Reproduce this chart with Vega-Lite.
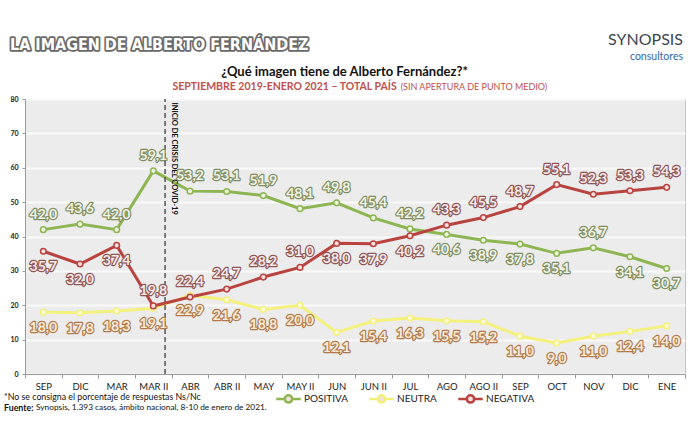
{
  "$schema": "https://vega.github.io/schema/vega-lite/v6.json",
  "width": 660,
  "height": 275,
  "autosize": {"type": "none"},
  "padding": {"top": 99, "left": 25, "right": 5, "bottom": 71},
  "background": "#ffffff",
  "config": {
    "locale": {"number": {"decimal": ",", "thousands": ".", "grouping": [3], "currency": ["$", ""]}},
    "view": {"fill": "#ececec", "stroke": "#c4c4c4", "strokeWidth": 1},
    "font": "Lato"
  },
  "resolve": {"axis": {"y": "independent"}},
  "datasets": {
    "serie": [
      {"periodo": "SEP", "serie": "POSITIVA", "valor": 42.0},
      {"periodo": "DIC", "serie": "POSITIVA", "valor": 43.6},
      {"periodo": "MAR", "serie": "POSITIVA", "valor": 42.0},
      {"periodo": "MAR II", "serie": "POSITIVA", "valor": 59.1},
      {"periodo": "ABR", "serie": "POSITIVA", "valor": 53.2},
      {"periodo": "ABR II", "serie": "POSITIVA", "valor": 53.1},
      {"periodo": "MAY", "serie": "POSITIVA", "valor": 51.9},
      {"periodo": "MAY II", "serie": "POSITIVA", "valor": 48.1},
      {"periodo": "JUN", "serie": "POSITIVA", "valor": 49.8},
      {"periodo": "JUN II", "serie": "POSITIVA", "valor": 45.4},
      {"periodo": "JUL", "serie": "POSITIVA", "valor": 42.2},
      {"periodo": "AGO", "serie": "POSITIVA", "valor": 40.6},
      {"periodo": "AGO II", "serie": "POSITIVA", "valor": 38.9},
      {"periodo": "SEP ", "serie": "POSITIVA", "valor": 37.8},
      {"periodo": "OCT", "serie": "POSITIVA", "valor": 35.1},
      {"periodo": "NOV", "serie": "POSITIVA", "valor": 36.7},
      {"periodo": "DIC ", "serie": "POSITIVA", "valor": 34.1},
      {"periodo": "ENE", "serie": "POSITIVA", "valor": 30.7},
      {"periodo": "SEP", "serie": "NEUTRA", "valor": 18.0},
      {"periodo": "DIC", "serie": "NEUTRA", "valor": 17.8},
      {"periodo": "MAR", "serie": "NEUTRA", "valor": 18.3},
      {"periodo": "MAR II", "serie": "NEUTRA", "valor": 19.1},
      {"periodo": "ABR", "serie": "NEUTRA", "valor": 22.9},
      {"periodo": "ABR II", "serie": "NEUTRA", "valor": 21.6},
      {"periodo": "MAY", "serie": "NEUTRA", "valor": 18.8},
      {"periodo": "MAY II", "serie": "NEUTRA", "valor": 20.0},
      {"periodo": "JUN", "serie": "NEUTRA", "valor": 12.1},
      {"periodo": "JUN II", "serie": "NEUTRA", "valor": 15.4},
      {"periodo": "JUL", "serie": "NEUTRA", "valor": 16.3},
      {"periodo": "AGO", "serie": "NEUTRA", "valor": 15.5},
      {"periodo": "AGO II", "serie": "NEUTRA", "valor": 15.2},
      {"periodo": "SEP ", "serie": "NEUTRA", "valor": 11.0},
      {"periodo": "OCT", "serie": "NEUTRA", "valor": 9.0},
      {"periodo": "NOV", "serie": "NEUTRA", "valor": 11.0},
      {"periodo": "DIC ", "serie": "NEUTRA", "valor": 12.4},
      {"periodo": "ENE", "serie": "NEUTRA", "valor": 14.0},
      {"periodo": "SEP", "serie": "NEGATIVA", "valor": 35.7},
      {"periodo": "DIC", "serie": "NEGATIVA", "valor": 32.0},
      {"periodo": "MAR", "serie": "NEGATIVA", "valor": 37.4},
      {"periodo": "MAR II", "serie": "NEGATIVA", "valor": 19.8},
      {"periodo": "ABR", "serie": "NEGATIVA", "valor": 22.4},
      {"periodo": "ABR II", "serie": "NEGATIVA", "valor": 24.7},
      {"periodo": "MAY", "serie": "NEGATIVA", "valor": 28.2},
      {"periodo": "MAY II", "serie": "NEGATIVA", "valor": 31.0},
      {"periodo": "JUN", "serie": "NEGATIVA", "valor": 38.0},
      {"periodo": "JUN II", "serie": "NEGATIVA", "valor": 37.9},
      {"periodo": "JUL", "serie": "NEGATIVA", "valor": 40.2},
      {"periodo": "AGO", "serie": "NEGATIVA", "valor": 43.3},
      {"periodo": "AGO II", "serie": "NEGATIVA", "valor": 45.5},
      {"periodo": "SEP ", "serie": "NEGATIVA", "valor": 48.7},
      {"periodo": "OCT", "serie": "NEGATIVA", "valor": 55.1},
      {"periodo": "NOV", "serie": "NEGATIVA", "valor": 52.3},
      {"periodo": "DIC ", "serie": "NEGATIVA", "valor": 53.3},
      {"periodo": "ENE", "serie": "NEGATIVA", "valor": 54.3}
    ],
    "hito": [{"periodo": "MAR II", "evento": "INICIO DE CRISIS DEL COVID-19"}],
    "cabecera": [{"texto": "LA IMAGEN DE ALBERTO FERNÁNDEZ"}],
    "pregunta": [{"texto": "¿Qué imagen tiene de Alberto Fernández?*"}],
    "periodo": [{"texto": "SEPTIEMBRE 2019-ENERO 2021 – TOTAL PAÍS"}],
    "periodo2": [{"texto": "(SIN APERTURA DE PUNTO MEDIO)"}],
    "marca": [{"texto": "SYNOPSIS"}],
    "marca2": [{"texto": "consultores"}],
    "nota": [{"texto": "*No se consigna el porcentaje de respuestas Ns/Nc"}],
    "fuente": [{"texto": "Fuente:"}],
    "fuente2": [{"texto": "Synopsis, 1.393 casos, ámbito nacional, 8-10 de enero de 2021."}]
  },
  "layer": [
    {
      "data": {"name": "serie"},
      "mark": {"type": "line", "strokeWidth": 3},
      "encoding": {
        "x": {
          "field": "periodo",
          "type": "ordinal",
          "scale": {
            "type": "band",
            "paddingInner": 0,
            "paddingOuter": 0,
            "domain": ["SEP", "DIC", "MAR", "MAR II", "ABR", "ABR II", "MAY", "MAY II", "JUN", "JUN II", "JUL", "AGO", "AGO II", "SEP ", "OCT", "NOV", "DIC ", "ENE"]
          },
          "axis": {
            "title": null,
            "labelAngle": 0,
            "labelExpr": "trim(datum.label)",
            "labelFont": "Lato",
            "labelFontSize": 9.5,
            "labelColor": "#222222",
            "labelPadding": 3,
            "tickBand": "extent",
            "tickSize": 4,
            "tickColor": "#9a9a9a",
            "domainColor": "#9a9a9a",
            "grid": false
          }
        },
        "y": {
          "field": "valor",
          "type": "quantitative",
          "scale": {"domain": [0, 80], "nice": false},
          "axis": {
            "title": null,
            "values": [0, 10, 20, 30, 40, 50, 60, 70, 80],
            "labelOverlap": false,
            "labelFont": "Lato",
            "labelFontSize": 7,
            "labelFontWeight": "bold",
            "labelColor": "#222222",
            "labelPadding": 4,
            "tickSize": 3,
            "tickColor": "#9a9a9a",
            "domainColor": "#9a9a9a",
            "gridColor": "#fafafa",
            "gridWidth": 2
          }
        },
        "stroke": {
          "field": "serie",
          "type": "nominal",
          "scale": {"domain": ["POSITIVA", "NEUTRA", "NEGATIVA"], "range": ["#8db653", "#f4f07c", "#b8433f"]},
          "legend": {
            "title": null,
            "orient": "none",
            "legendX": 250,
            "legendY": 286,
            "direction": "horizontal",
            "symbolType": "M-1,0H-0.3M0.3,0H1M-0.3,0A0.3,0.3,0,1,1,0.3,0A0.3,0.3,0,1,1,-0.3,0Z",
            "symbolSize": 600,
            "symbolStrokeWidth": 2.5,
            "symbolFillColor": "#f6f6ee",
            "labelFont": "Lato",
            "labelFontSize": 10,
            "labelColor": "#222222",
            "labelOffset": 2,
            "columnPadding": 16
          }
        }
      }
    },
    {
      "data": {"name": "hito"},
      "mark": {"type": "rule", "color": "#555555", "strokeWidth": 1.5, "strokeDash": [5, 3]},
      "encoding": {
        "x": {"field": "periodo", "type": "ordinal", "bandPosition": 0.82},
        "y": {"datum": 0, "type": "quantitative", "axis": null},
        "y2": {"datum": 80}
      }
    },
    {
      "data": {"name": "hito"},
      "mark": {"type": "text", "angle": 90, "align": "left", "baseline": "alphabetic", "font": "Lato", "fontWeight": "bold", "fontSize": 7.5, "color": "#111111"},
      "encoding": {
        "x": {"field": "periodo", "type": "ordinal", "bandPosition": 1},
        "y": {"datum": 79, "type": "quantitative", "axis": null},
        "text": {"field": "evento"}
      }
    },
    {
      "data": {"name": "serie"},
      "mark": {"type": "point", "shape": "circle", "filled": true, "size": 32, "strokeWidth": 1.5, "opacity": 1},
      "encoding": {
        "x": {"field": "periodo", "type": "ordinal"},
        "y": {"field": "valor", "type": "quantitative", "axis": null},
        "stroke": {"field": "serie", "type": "nominal"},
        "fill": {
          "condition": [
            {"test": "datum.serie == 'POSITIVA'", "value": "#eef4e0"},
            {"test": "datum.serie == 'NEUTRA'", "value": "#fffbdc"}
          ],
          "value": "#f6dede"
        }
      }
    },
    {
      "data": {"name": "serie"},
      "transform": [{"filter": "(datum.serie == 'POSITIVA' && indexof(['AGO','AGO II','SEP ','OCT','DIC ','ENE'], datum.periodo) < 0) || (datum.serie == 'NEGATIVA' && indexof(['MAR II','ABR','ABR II','MAY','MAY II','AGO','AGO II','SEP ','OCT','NOV','DIC ','ENE'], datum.periodo) >= 0)"}],
      "mark": {"type": "text", "font": "Lato", "fontWeight": "bold", "fontSize": 14, "dy": -15, "strokeWidth": 2.4, "strokeJoin": "round"},
      "encoding": {
        "x": {"field": "periodo", "type": "ordinal"},
        "y": {"field": "valor", "type": "quantitative", "axis": null},
        "text": {"field": "valor", "type": "quantitative", "format": ".1f"},
        "stroke": {"value": "#888888", "condition": [{"test": "datum.serie == 'POSITIVA'", "value": "#7f8d60"}, {"test": "datum.serie == 'NEGATIVA'", "value": "#8e5555"}]},
        "fill": {"value": "#888888", "condition": [{"test": "datum.serie == 'POSITIVA'", "value": "#7f8d60"}, {"test": "datum.serie == 'NEGATIVA'", "value": "#8e5555"}]}
      }
    },
    {
      "data": {"name": "serie"},
      "transform": [{"filter": "(datum.serie == 'POSITIVA' && indexof(['AGO','AGO II','SEP ','OCT','DIC ','ENE'], datum.periodo) < 0) || (datum.serie == 'NEGATIVA' && indexof(['MAR II','ABR','ABR II','MAY','MAY II','AGO','AGO II','SEP ','OCT','NOV','DIC ','ENE'], datum.periodo) >= 0)"}],
      "mark": {"type": "text", "font": "Lato", "fontWeight": "bold", "fontSize": 14, "dy": -15},
      "encoding": {
        "x": {"field": "periodo", "type": "ordinal"},
        "y": {"field": "valor", "type": "quantitative", "axis": null},
        "text": {"field": "valor", "type": "quantitative", "format": ".1f"},
        "fill": {"value": "#f2f2f2", "condition": [{"test": "datum.serie == 'POSITIVA'", "value": "#f1f4e6"}, {"test": "datum.serie == 'NEGATIVA'", "value": "#f8ecec"}]}
      }
    },
    {
      "data": {"name": "serie"},
      "transform": [{"filter": "!((datum.serie == 'POSITIVA' && indexof(['AGO','AGO II','SEP ','OCT','DIC ','ENE'], datum.periodo) < 0) || (datum.serie == 'NEGATIVA' && indexof(['MAR II','ABR','ABR II','MAY','MAY II','AGO','AGO II','SEP ','OCT','NOV','DIC ','ENE'], datum.periodo) >= 0))"}],
      "mark": {"type": "text", "font": "Lato", "fontWeight": "bold", "fontSize": 14, "dy": 16, "strokeWidth": 2.4, "strokeJoin": "round"},
      "encoding": {
        "x": {"field": "periodo", "type": "ordinal"},
        "y": {"field": "valor", "type": "quantitative", "axis": null},
        "text": {"field": "valor", "type": "quantitative", "format": ".1f"},
        "stroke": {"value": "#b07a4e", "condition": [{"test": "datum.serie == 'POSITIVA'", "value": "#7f8d60"}, {"test": "datum.serie == 'NEGATIVA'", "value": "#8e5555"}]},
        "fill": {"value": "#b07a4e", "condition": [{"test": "datum.serie == 'POSITIVA'", "value": "#7f8d60"}, {"test": "datum.serie == 'NEGATIVA'", "value": "#8e5555"}]}
      }
    },
    {
      "data": {"name": "serie"},
      "transform": [{"filter": "!((datum.serie == 'POSITIVA' && indexof(['AGO','AGO II','SEP ','OCT','DIC ','ENE'], datum.periodo) < 0) || (datum.serie == 'NEGATIVA' && indexof(['MAR II','ABR','ABR II','MAY','MAY II','AGO','AGO II','SEP ','OCT','NOV','DIC ','ENE'], datum.periodo) >= 0))"}],
      "mark": {"type": "text", "font": "Lato", "fontWeight": "bold", "fontSize": 14, "dy": 16},
      "encoding": {
        "x": {"field": "periodo", "type": "ordinal"},
        "y": {"field": "valor", "type": "quantitative", "axis": null},
        "text": {"field": "valor", "type": "quantitative", "format": ".1f"},
        "fill": {"value": "#fcecd6", "condition": [{"test": "datum.serie == 'POSITIVA'", "value": "#f1f4e6"}, {"test": "datum.serie == 'NEGATIVA'", "value": "#f8ecec"}]}
      }
    },
    {
      "data": {"name": "cabecera"},
      "mark": {"type": "text", "clip": false, "align": "left", "baseline": "middle", "font": "DejaVu Sans Condensed", "fontWeight": "bold", "fontSize": 16, "stroke": "#6a6a6a", "strokeWidth": 3.5, "strokeJoin": "round", "fill": "#6a6a6a", "dx": -15},
      "encoding": {"x": {"datum": "SEP", "bandPosition": 0, "type": "ordinal"}, "y": {"datum": 95.8, "type": "quantitative", "axis": null}, "text": {"field": "texto"}}
    },
    {
      "data": {"name": "cabecera"},
      "mark": {"type": "text", "clip": false, "align": "left", "baseline": "middle", "font": "DejaVu Sans Condensed", "fontWeight": "bold", "fontSize": 16, "fill": "#ffffff", "dx": -15},
      "encoding": {"x": {"datum": "SEP", "bandPosition": 0, "type": "ordinal"}, "y": {"datum": 95.8, "type": "quantitative", "axis": null}, "text": {"field": "texto"}}
    },
    {
      "data": {"name": "pregunta"},
      "mark": {"type": "text", "clip": false, "align": "center", "baseline": "middle", "font": "Lato", "fontWeight": "bold", "fontSize": 13, "fill": "#111111", "dx": 8},
      "encoding": {"x": {"datum": "JUN", "bandPosition": 0.5, "type": "ordinal"}, "y": {"datum": 87.85, "type": "quantitative", "axis": null}, "text": {"field": "texto"}}
    },
    {
      "data": {"name": "periodo"},
      "mark": {"type": "text", "clip": false, "align": "right", "baseline": "middle", "font": "Lato", "fontWeight": "bold", "fontSize": 10.5, "fill": "#c0504d", "dx": 5},
      "encoding": {"x": {"datum": "JUL", "bandPosition": 0, "type": "ordinal"}, "y": {"datum": 83.5, "type": "quantitative", "axis": null}, "text": {"field": "texto"}}
    },
    {
      "data": {"name": "periodo2"},
      "mark": {"type": "text", "clip": false, "align": "left", "baseline": "middle", "font": "Lato", "fontSize": 9, "fill": "#c0504d", "dx": 9},
      "encoding": {"x": {"datum": "JUL", "bandPosition": 0, "type": "ordinal"}, "y": {"datum": 83.5, "type": "quantitative", "axis": null}, "text": {"field": "texto"}}
    },
    {
      "data": {"name": "marca"},
      "mark": {"type": "text", "clip": false, "align": "right", "baseline": "middle", "font": "Lato", "fontSize": 16, "fill": "#3c4653", "dx": -2},
      "encoding": {"x": {"datum": "ENE", "bandPosition": 1, "type": "ordinal"}, "y": {"datum": 97.3, "type": "quantitative", "axis": null}, "text": {"field": "texto"}}
    },
    {
      "data": {"name": "marca2"},
      "mark": {"type": "text", "clip": false, "align": "right", "baseline": "middle", "font": "Lato", "fontSize": 10.5, "fill": "#2f66a8", "dx": -2},
      "encoding": {"x": {"datum": "ENE", "bandPosition": 1, "type": "ordinal"}, "y": {"datum": 92.2, "type": "quantitative", "axis": null}, "text": {"field": "texto"}}
    },
    {
      "data": {"name": "nota"},
      "mark": {"type": "text", "clip": false, "align": "left", "baseline": "middle", "font": "Lato", "fontSize": 8.8, "fill": "#111111", "dx": -21},
      "encoding": {"x": {"datum": "SEP", "bandPosition": 0, "type": "ordinal"}, "y": {"datum": -6.7, "type": "quantitative", "axis": null}, "text": {"field": "texto"}}
    },
    {
      "data": {"name": "fuente"},
      "mark": {"type": "text", "clip": false, "align": "left", "baseline": "middle", "font": "Lato", "fontWeight": "bold", "fontSize": 8.8, "fill": "#111111", "dx": -21},
      "encoding": {"x": {"datum": "SEP", "bandPosition": 0, "type": "ordinal"}, "y": {"datum": -9.9, "type": "quantitative", "axis": null}, "text": {"field": "texto"}}
    },
    {
      "data": {"name": "fuente2"},
      "mark": {"type": "text", "clip": false, "align": "left", "baseline": "middle", "font": "Lato", "fontSize": 8.3, "fill": "#111111", "dx": 11},
      "encoding": {"x": {"datum": "SEP", "bandPosition": 0, "type": "ordinal"}, "y": {"datum": -9.9, "type": "quantitative", "axis": null}, "text": {"field": "texto"}}
    }
  ]
}
